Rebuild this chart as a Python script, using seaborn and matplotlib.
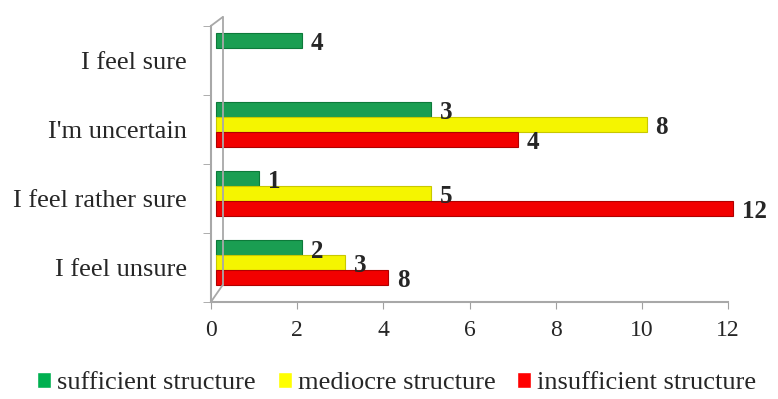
import pandas as pd
import numpy as np
import seaborn as sns
import matplotlib.pyplot as plt
import matplotlib.transforms as mtransforms
from matplotlib.patches import Patch
from matplotlib.lines import Line2D

# data (bar lengths and printed labels differ in the original)
categories = ["I feel sure", "I'm uncertain", "I feel rather sure", "I feel unsure"]
series = ["sufficient structure", "mediocre structure", "insufficient structure"]
bar_sufficient = [2, 5, 1, 2]
bar_mediocre = [0, 10, 5, 3]
bar_insufficient = [0, 7, 12, 4]
label_sufficient = ["4", "3", "1", "2"]
label_mediocre = ["", "8", "5", "3"]
label_insufficient = ["", "4", "12", "8"]
colors = ["#1a9e52", "#f5f500", "#f20000"]
edge_colors = ["#0d7a3a", "#c8c800", "#b00000"]
legend_colors = ["#00b050", "#ffff00", "#ff0000"]

df = pd.DataFrame({
    "category": categories * 3,
    "series": [s for s in series for _ in categories],
    "value": bar_sufficient + bar_mediocre + bar_insufficient,
})
labels = [label_sufficient, label_mediocre, label_insufficient]

sns.set_style("white")
plt.rcParams["font.family"] = ["Liberation Serif", "DejaVu Serif"]

fig, ax = plt.subplots(figsize=(7.78, 3.99), dpi=100)
fig.subplots_adjust(left=0.271, right=0.936, top=0.935, bottom=0.243)

sns.barplot(data=df, y="category", x="value", hue="series", order=categories,
            hue_order=series, palette=colors, saturation=1, width=0.65,
            orient="h", edgecolor="none", ax=ax, legend=False)

# pseudo-3D depth: bars sit a few pixels right/up of the front axes
depth = mtransforms.ScaledTranslation(5 / 100, 5 / 100, fig.dpi_scale_trans)

for cont, labs, ec in zip(ax.containers, labels, edge_colors):
    for bar, lab in zip(cont, labs):
        bar.set_transform(ax.transData + depth)
        bar.set_clip_on(False)
        if bar.get_width() > 0:
            bar.set_edgecolor(ec)
            bar.set_linewidth(0.8)
        else:
            bar.set_visible(False)
        if not lab:
            continue
        ax.text(bar.get_width() + 0.2, bar.get_y() + bar.get_height() / 2 + 0.05, lab,
                ha="left", va="center", fontsize=18, fontweight="bold",
                clip_on=False, transform=ax.transData + depth)

# back wall of the 3D frame
wall = ax.transAxes + mtransforms.ScaledTranslation(12 / 100, 9 / 100, fig.dpi_scale_trans)
ax.add_line(Line2D([0, 0], [0.03, 1], transform=wall, color="#a8a8a8", lw=1.3, clip_on=False))
ax.add_line(Line2D([0, 12 / 517], [1, 1 + 9 / 276], transform=ax.transAxes,
                   color="#a8a8a8", lw=1.3, clip_on=False))
ax.add_line(Line2D([0, 12 / 517], [0, 9 / 276 + 0.03], transform=ax.transAxes,
                   color="#a8a8a8", lw=1.3, clip_on=False))

ax.set_xlim(0, 12)
ax.set_ylim(3.5, -0.5)
ax.set_xticks(range(0, 13, 2))
ax.set_xlabel("")
ax.set_ylabel("")
ax.tick_params(axis="x", labelsize=17, length=5, color="#a0a0a0", direction="out",
               bottom=True, pad=8)
ax.tick_params(axis="y", which="major", labelsize=19, length=0, pad=17)
ax.set_yticks(np.arange(-0.5, 4, 1), minor=True)
ax.tick_params(axis="y", which="minor", length=6, color="#a0a0a0", left=True)
for s in ["top", "right"]:
    ax.spines[s].set_visible(False)
for s in ["left", "bottom"]:
    ax.spines[s].set_color("#a8a8a8")
    ax.spines[s].set_linewidth(1.5)

handles = [Patch(facecolor=c, label=s) for c, s in zip(legend_colors, series)]
fig.legend(handles=handles, loc="lower center", ncol=3, frameon=False,
           fontsize=19, bbox_to_anchor=(0.51, -0.048), handlelength=0.53,
           handleheight=0.55, handletextpad=0.23, columnspacing=0.83)

fig.savefig("out.png", dpi=100)
